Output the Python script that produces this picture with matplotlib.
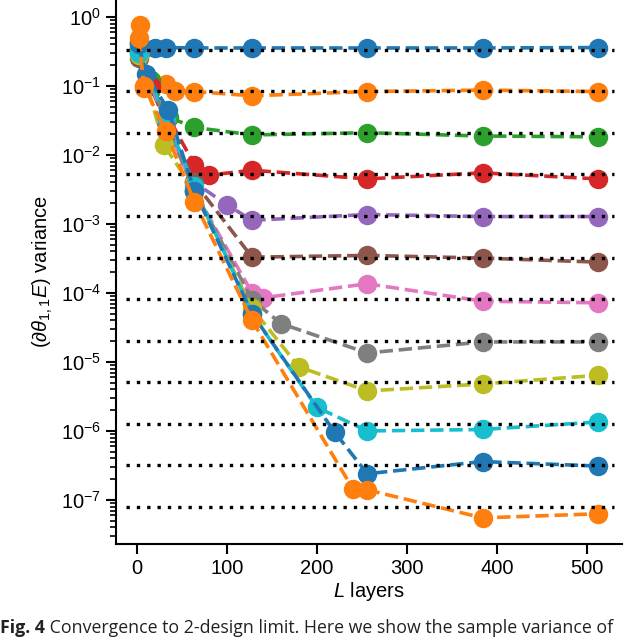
import numpy as np
import matplotlib
matplotlib.use("Agg")
import matplotlib.pyplot as plt

plt.rcParams["font.family"] = ["Liberation Sans", "DejaVu Sans"]
plt.rcParams["mathtext.fontset"] = "custom"
plt.rcParams["mathtext.rm"] = "Liberation Sans"
plt.rcParams["mathtext.it"] = "Liberation Sans:italic"
plt.rcParams["mathtext.bf"] = "Liberation Sans:bold"

COLORS = ["tab:blue", "tab:orange", "tab:green", "tab:red", "tab:purple",
          "tab:brown", "tab:pink", "tab:gray", "tab:olive", "tab:cyan",
          "tab:blue", "tab:orange"]

# sample variance per layer count, one list per qubit size
L_0 = [2, 20, 32, 64, 128, 256, 384, 512]
V_0 = [0.43, 0.36, 0.36, 0.355, 0.355, 0.355, 0.355, 0.36]
L_1 = [3, 8, 32, 42, 64, 128, 256, 384, 512]
V_1 = [0.77, 0.093, 0.105, 0.085, 0.083, 0.072, 0.083, 0.087, 0.083]
L_2 = [2, 16, 36, 64, 128, 256, 384, 512]
V_2 = [0.35, 0.12, 0.035, 0.025, 0.0195, 0.021, 0.0188, 0.0183]
L_3 = [4, 16, 64, 80, 128, 256, 384, 512]
V_3 = [0.3, 0.1, 0.0072, 0.0051, 0.006, 0.0045, 0.0055, 0.0045]
L_4 = [4, 32, 64, 100, 128, 256, 384, 512]
V_4 = [0.31, 0.03, 0.004, 0.0019, 0.00113, 0.00137, 0.00128, 0.00128]
L_5 = [2, 32, 64, 128, 256, 384, 512]
V_5 = [0.25, 0.03, 0.004, 0.00033, 0.00035, 0.00032, 0.00028]
L_6 = [2, 32, 64, 128, 140, 256, 384, 512]
V_6 = [0.3, 0.03, 0.003, 0.0001, 8.5e-5, 0.000136, 7.6e-5, 7.2e-5]
L_7 = [2, 32, 64, 128, 160, 256, 384, 512]
V_7 = [0.4, 0.03, 0.003, 8e-5, 3.6e-5, 1.35e-5, 1.95e-5, 1.95e-5]
L_8 = [2, 30, 64, 128, 180, 256, 384, 512]
V_8 = [0.28, 0.014, 0.003, 6e-5, 8.5e-6, 3.8e-6, 4.8e-6, 6.4e-6]
L_9 = [2, 32, 64, 128, 200, 256, 384, 512]
V_9 = [0.3, 0.035, 0.0035, 5e-5, 2.2e-6, 1.0e-6, 1.05e-6, 1.35e-6]
L_10 = [2, 10, 35, 64, 128, 220, 256, 384, 512]
V_10 = [0.4, 0.15, 0.045, 0.003, 5e-5, 9.5e-7, 2.4e-7, 3.6e-7, 3.1e-7]
L_11 = [2, 8, 32, 64, 128, 240, 256, 384, 512]
V_11 = [0.5, 0.1, 0.022, 0.0021, 4e-5, 1.45e-7, 1.4e-7, 5.5e-8, 6.3e-8]

SERIES_L = [L_0, L_1, L_2, L_3, L_4, L_5, L_6, L_7, L_8, L_9, L_10, L_11]
SERIES_V = [V_0, V_1, V_2, V_3, V_4, V_5, V_6, V_7, V_8, V_9, V_10, V_11]

# 2-design limits
LIMITS = [1 / 3 / 4 ** k for k in range(12)]

fig = plt.figure(figsize=(6.4, 6.4), dpi=100)
ax = fig.add_axes([0.181, 0.15, 0.791, 0.85])

for xs, ys, c in zip(SERIES_L, SERIES_V, COLORS):
    ax.plot(xs, ys, "o--", color=c, lw=2.6, ms=13, zorder=2)

for lim in LIMITS:
    ax.hlines(lim, -12, 530, colors="black", lw=2.4,
              linestyles=[(0, (1, 2.1))], zorder=3)

ax.set_yscale("log")
ax.set_xlim(-23.3, 539)
ax.set_ylim(2.3e-8, 1.76)
ax.set_xticks([0, 100, 200, 300, 400, 500])
ax.set_yticks([1e0, 1e-1, 1e-2, 1e-3, 1e-4, 1e-5, 1e-6, 1e-7])

for side in ["top", "right"]:
    ax.spines[side].set_visible(False)
for side in ["left", "bottom"]:
    ax.spines[side].set_linewidth(1.5)
ax.tick_params(which="major", length=7, width=1.5, labelsize=14.5)
ax.tick_params(which="minor", length=4, width=1.2)

ax.set_xlabel(r"$L$ layers", fontsize=14.5, labelpad=2)
ax.set_ylabel(r"$(\partial\theta_{1,1}E)$ variance", fontsize=14.5, labelpad=4)

# caption line under the chart
t1 = fig.text(0.0, 0.004, "Fig. 4", fontsize=12.8, fontweight="bold",
              family=["Open Sans", "DejaVu Sans"], va="bottom", ha="left", color="#222222")
ax.annotate(" Convergence to 2-design limit. Here we show the sample variance of",
            xy=(1, 0), xycoords=t1, va="bottom", ha="left", fontsize=12.8,
            family=["Open Sans", "DejaVu Sans"], color="#222222", annotation_clip=False)

fig.savefig("out.png", dpi=100)
